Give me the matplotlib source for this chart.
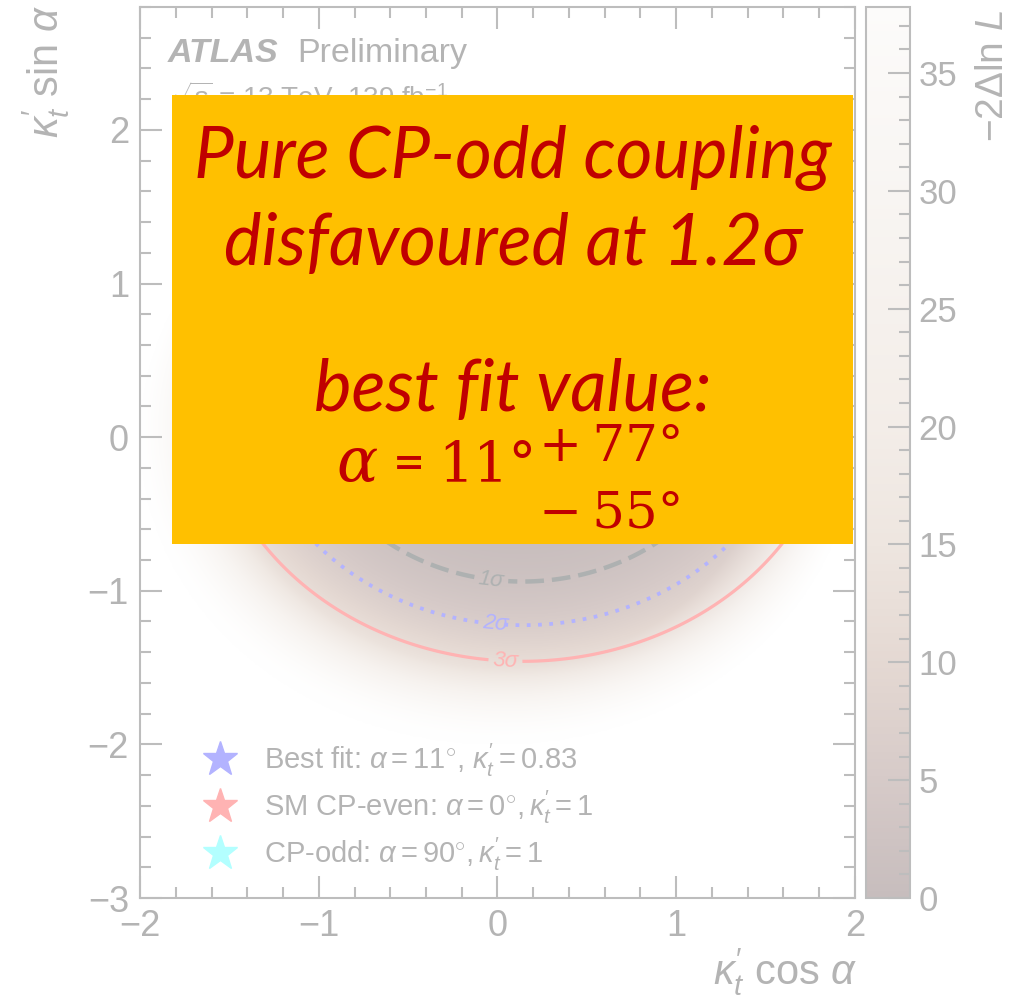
import numpy as np
import matplotlib.pyplot as plt
from matplotlib.colors import LinearSegmentedColormap, Normalize
from matplotlib.cm import ScalarMappable
from matplotlib.patches import Rectangle
from matplotlib.lines import Line2D
from matplotlib.ticker import MultipleLocator

plt.rcParams['font.family'] = ['Liberation Sans', 'DejaVu Sans']
plt.rcParams['mathtext.fontset'] = 'custom'
plt.rcParams['mathtext.rm'] = 'Liberation Sans'
plt.rcParams['mathtext.it'] = 'Liberation Sans:italic'
plt.rcParams['mathtext.bf'] = 'Liberation Sans:bold'

# -2 delta lnL surface: a ring around (centre_x, centre_y), scanned for kappa <= 2
centre_x, centre_y = 0.14, 0.30
ring_r2 = 0.309
ring_w2 = 0.81
kappa_max = 2.0
edge_fade = 0.5
z_max = 37.8

levels = [2.30, 6.18, 11.83]
level_names = ['1σ', '2σ', '3σ']
level_colors = ['#aeb1b1', '#b3b3ff', '#ffb3b3']
level_styles = [(0, (4.2, 1.8)), (0, (1, 2)), '-']
level_widths = [3.2, 2.7, 2.3]
label_pos = [(-0.03, -0.88), (-0.01, -1.18), (0.045, -1.44)]

point_alpha = [11, 0, 90]
point_kappa = [0.83, 1.0, 1.0]
point_names = [r'Best fit: $\alpha = 11^{\circ}$, $\kappa_t^{\prime} = 0.83$',
               r'SM CP-even: $\alpha = 0^{\circ}, \kappa_t^{\prime} = 1$',
               r'CP-odd: $\alpha = 90^{\circ}, \kappa_t^{\prime} = 1$']
point_colors = ['#b3b3ff', '#ffb3b3', '#b3ffff']

cmap_stops = [0.0, 0.13, 0.26, 0.40, 0.53, 0.79, 1.0]
cmap_colors = ['#c7bdbd', '#d6cac8', '#e4d8d2', '#eee6e0', '#f3ede8', '#f8f5f2', '#fcfbfa']

grey = '#b4b4b4'
frame = '#bdbdbd'

W, H = 1030, 1001
fig = plt.figure(figsize=(W / 100, H / 100), dpi=100)


def fx(px):
    return px / W


def fy(py):
    return 1 - py / H


ax = fig.add_axes([fx(140), fy(898), fx(855) - fx(140), fy(7) - fy(898)])
cax = fig.add_axes([fx(866), fy(898), fx(910) - fx(866), fy(7) - fy(898)])

xs = np.linspace(-2, 2, 801)
ys = np.linspace(-3, 2.8, 1161)
X, Y = np.meshgrid(xs, ys)
kappa = np.hypot(X, Y)
rho2 = (X - centre_x) ** 2 + (Y - centre_y) ** 2
Z = ((rho2 - ring_r2) / ring_w2) ** 2

cmap = LinearSegmentedColormap.from_list('nll', list(zip(cmap_stops, cmap_colors)))
norm = Normalize(0, z_max)

# the scan thins out towards the kappa = 2 boundary: blend into white there
fade = np.clip((kappa_max - kappa) / edge_fade, 0, 1)
rgb = cmap(norm(Z))[..., :3]
rgb = fade[..., None] * rgb + (1 - fade[..., None])
ax.imshow(rgb, extent=(-2, 2, -3, 2.8), origin='lower', aspect='auto',
          interpolation='bilinear')

Zc = np.ma.masked_where(kappa > kappa_max, Z)
cs = ax.contour(X, Y, Zc, levels=levels, colors=level_colors,
                linestyles=level_styles, linewidths=level_widths)
lbls = ax.clabel(cs, fmt=dict(zip(levels, level_names)), manual=label_pos,
                 inline=True, inline_spacing=4, fontsize=16)
for t in lbls:
    t.set_fontstyle('italic')

handles = []
for a, k, name, c in zip(point_alpha, point_kappa, point_names, point_colors):
    ax.plot(k * np.cos(np.radians(a)), k * np.sin(np.radians(a)), ls='none',
            marker='*', ms=26, color=c, mec=c)
    handles.append(Line2D([], [], ls='none', marker='*', ms=26, color=c, mec=c,
                          label=name))
ax.legend(handles=handles, loc='upper left', bbox_to_anchor=(0.088, 0.175),
          frameon=False, fontsize=21, labelcolor=grey, handlelength=1.2,
          handletextpad=0.9, labelspacing=0.33, borderpad=0, borderaxespad=0)

ax.set_xlim(-2, 2)
ax.set_ylim(-3, 2.8)
ax.xaxis.set_major_locator(MultipleLocator(1))
ax.xaxis.set_minor_locator(MultipleLocator(0.2))
ax.yaxis.set_major_locator(MultipleLocator(1))
ax.yaxis.set_minor_locator(MultipleLocator(0.2))
ax.tick_params(which='both', direction='in', top=True, right=True,
               color=frame, width=1.5, labelcolor=grey, labelsize=26)
ax.tick_params(which='major', length=16, pad=8)
ax.tick_params(which='minor', length=8)
for s in ax.spines.values():
    s.set_color(frame)
    s.set_linewidth(1.5)

cb = fig.colorbar(ScalarMappable(norm=norm, cmap=cmap), cax=cax)
cb.outline.set_edgecolor(frame)
cb.outline.set_linewidth(1.5)
cax.yaxis.set_major_locator(MultipleLocator(5))
cax.yaxis.set_minor_locator(MultipleLocator(1))
cax.tick_params(which='both', direction='in', color=frame, width=1.5,
                labelcolor=grey, labelsize=25)
cax.tick_params(which='major', length=16, pad=6)
cax.tick_params(which='minor', length=8)

fig.text(fx(858), fy(972), r"$\kappa_t^{\prime}$ cos $\alpha$", ha='right',
         va='center', fontsize=30, color=grey)
fig.text(fx(46), fy(5), r"$\kappa_t^{\prime}$ sin $\alpha$", ha='center',
         va='top', rotation=90, fontsize=30, color=grey)
fig.text(fx(993), fy(10), r"$-2\Delta\ln\,L$", ha='center', va='top',
         rotation=90, fontsize=28, color=grey)

fig.text(fx(168), fy(62), 'ATLAS', fontsize=24.5, fontweight='bold',
         fontstyle='italic', color=grey, va='baseline')
fig.text(fx(297), fy(62), 'Preliminary', fontsize=24.5, color=grey, va='baseline')
fig.text(fx(170), fy(106), r'$\sqrt{s}$ = 13 TeV, 139 fb$^{-1}$', fontsize=20,
         color=grey, va='baseline')

# summary box drawn over the scan
box = Rectangle((fx(172), fy(544)), fx(853) - fx(172), fy(95) - fy(544),
                transform=fig.transFigure, facecolor='#ffc000',
                edgecolor='none', zorder=10)
fig.patches.append(box)

red = '#c00000'
sans = ['Lato', 'DejaVu Sans']
cx = fx(513)
for text, base in [('Pure CP-odd coupling', 178), ('disfavoured at 1.2σ', 265),
                   ('best fit value:', 411)]:
    fig.text(cx, fy(base), text, ha='center', va='baseline', fontsize=51,
             fontstyle='italic', family=sans, color=red, zorder=11)
fig.text(fx(336), fy(481), 'α', ha='left', va='baseline', fontsize=44,
         fontstyle='italic', family='DejaVu Serif', color=red, zorder=11)
fig.text(fx(393), fy(481), '=', ha='left', va='baseline', fontsize=40,
         family=sans, color=red, zorder=11)
fig.text(fx(438), fy(481), '11°', ha='left', va='baseline', fontsize=40,
         family='DejaVu Serif', color=red, zorder=11)
fig.text(fx(539), fy(461), '+\u200977°', ha='left', va='baseline', fontsize=37,
         family='DejaVu Serif', color=red, zorder=11)
fig.text(fx(539), fy(527), '−\u200955°', ha='left', va='baseline', fontsize=37,
         family='DejaVu Serif', color=red, zorder=11)

fig.savefig('out.png', dpi=100)
